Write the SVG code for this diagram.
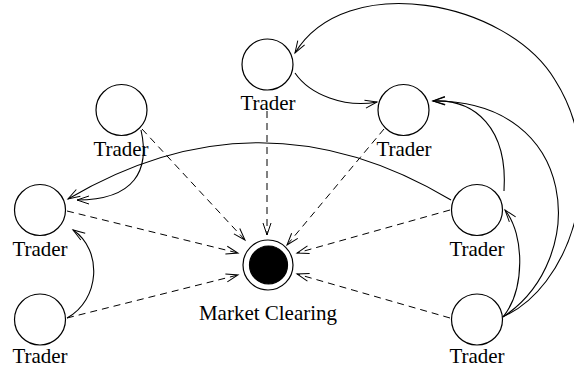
<svg xmlns="http://www.w3.org/2000/svg" width="574" height="368" viewBox="0 0 574 368">
<defs>
<marker id="arr" markerUnits="userSpaceOnUse" markerWidth="14" markerHeight="10" refX="12" refY="4" orient="auto" overflow="visible">
<path d="M0,0 L12,4 L0,8" fill="none" stroke="#000" stroke-width="1"/>
</marker>
</defs>
<style>
.node circle{fill:#fff;stroke:#000;stroke-width:1.2}
text{font-family:"Liberation Serif","Times New Roman",serif;font-size:21px;fill:#000;text-anchor:middle}
.dash{fill:none;stroke:#000;stroke-width:1;stroke-dasharray:7,5;marker-end:url(#arr)}
.solid{fill:none;stroke:#000;stroke-width:1.1;marker-end:url(#arr)}
</style>
<rect width="574" height="368" fill="#fff"/>
<g id="connectors">
<path class="dash" d="M267,111 L267,235"/>
<path class="dash" d="M142,129 L245,240"/>
<path class="dash" d="M384,129 L287,245"/>
<path class="dash" d="M67,211 L238,253"/>
<path class="dash" d="M67,318 L238,275"/>
<path class="dash" d="M450,210 L297,253"/>
<path class="dash" d="M450,318 L297,274"/>
<path class="solid" d="M295,73 C310,95 345,108 377,102"/>
<path class="solid" d="M502,317 C568,290 612,170 555,80 C507,0 345,-30 295,53"/>
<path class="solid" d="M503,317 C590,260 580,100 433,101"/>
<path class="solid" d="M504,191 C508,128 475,99 433,101"/>
<path class="solid" d="M503,317 C525,290 525,235 505,210"/>
<path class="solid" d="M451,200 Q260,86 68,199"/>
<path class="solid" d="M141,130 C150,170 135,200 77,200"/>
<path class="solid" d="M67,318 C100,300 103,250 73,230"/>
</g>
<g id="trader-top" class="node"><circle cx="267.5" cy="64.5" r="25.5"/><text x="268" y="110">Trader</text></g>
<g id="trader-left-upper" class="node"><circle cx="121.5" cy="110" r="25.5"/><text x="121" y="156">Trader</text></g>
<g id="trader-right-top" class="node"><circle cx="403.5" cy="110" r="25.5"/><text x="404" y="156">Trader</text></g>
<g id="trader-left-middle" class="node"><circle cx="40" cy="210" r="25.5"/><text x="40" y="256">Trader</text></g>
<g id="trader-left-bottom" class="node"><circle cx="40" cy="319.5" r="25.5"/><text x="40" y="363">Trader</text></g>
<g id="trader-right-middle" class="node"><circle cx="477" cy="210" r="25.5"/><text x="477" y="256">Trader</text></g>
<g id="trader-right-bottom" class="node"><circle cx="477" cy="319.5" r="25.5"/><text x="477" y="363">Trader</text></g>
<g id="market-clearing" class="node"><circle cx="268" cy="265" r="25"/><circle cx="268.5" cy="265" r="19" style="fill:#000"/><text x="268" y="320">Market Clearing</text></g>
</svg>
